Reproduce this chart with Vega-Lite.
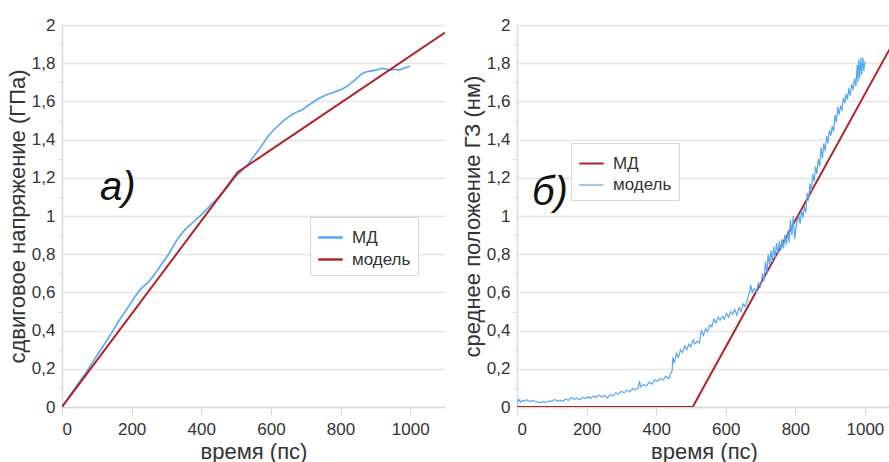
{
  "$schema": "https://vega.github.io/schema/vega-lite/v6.json",
  "padding": {"top": 16, "left": 6, "right": 0, "bottom": 0},
  "spacing": 16,
  "background": "white",
  "config": {
    "view": {"stroke": null},
    "axis": {
      "labelFont": "Liberation Sans", "labelFontSize": 17, "labelColor": "#333333",
      "titleFont": "Liberation Sans", "titleFontSize": 22, "titleFontWeight": "normal", "titleColor": "#333333",
      "domainColor": "#d9d9d9", "domainWidth": 1.5, "gridColor": "#e4e4e4", "gridWidth": 1.5, "tickColor": "#d9d9d9", "tickWidth": 1
    },
    "legend": {
      "labelFont": "Liberation Sans", "labelFontSize": 17, "labelColor": "#333333",
      "symbolType": "stroke", "symbolSize": 600, "symbolStrokeWidth": 2.5,
      "strokeColor": "#d6d6d6", "fillColor": "white", "padding": 7, "rowPadding": 0, "labelOffset": 8
    }
  },
  "datasets": {
    "a": [
      {"t": 0, "v": 0, "s": "МД"}, {"t": 30, "v": 0.08, "s": "МД"}, {"t": 67, "v": 0.175, "s": "МД"}, {"t": 90, "v": 0.24, "s": "МД"},
      {"t": 115, "v": 0.31, "s": "МД"}, {"t": 140, "v": 0.38, "s": "МД"}, {"t": 163, "v": 0.45, "s": "МД"}, {"t": 187, "v": 0.515, "s": "МД"},
      {"t": 210, "v": 0.58, "s": "МД"}, {"t": 230, "v": 0.625, "s": "МД"}, {"t": 249, "v": 0.655, "s": "МД"}, {"t": 268, "v": 0.7, "s": "МД"},
      {"t": 287, "v": 0.75, "s": "МД"}, {"t": 306, "v": 0.8, "s": "МД"}, {"t": 325, "v": 0.86, "s": "МД"}, {"t": 340, "v": 0.9, "s": "МД"},
      {"t": 354, "v": 0.93, "s": "МД"}, {"t": 378, "v": 0.97, "s": "МД"}, {"t": 402, "v": 1.01, "s": "МД"}, {"t": 426, "v": 1.055, "s": "МД"},
      {"t": 450, "v": 1.1, "s": "МД"}, {"t": 475, "v": 1.15, "s": "МД"}, {"t": 498, "v": 1.205, "s": "МД"}, {"t": 518, "v": 1.24, "s": "МД"},
      {"t": 536, "v": 1.275, "s": "МД"}, {"t": 550, "v": 1.31, "s": "МД"}, {"t": 565, "v": 1.345, "s": "МД"}, {"t": 580, "v": 1.385, "s": "МД"},
      {"t": 593, "v": 1.42, "s": "МД"}, {"t": 608, "v": 1.45, "s": "МД"}, {"t": 622, "v": 1.475, "s": "МД"}, {"t": 640, "v": 1.505, "s": "МД"},
      {"t": 660, "v": 1.53, "s": "МД"}, {"t": 675, "v": 1.545, "s": "МД"}, {"t": 689, "v": 1.555, "s": "МД"}, {"t": 712, "v": 1.585, "s": "МД"},
      {"t": 737, "v": 1.615, "s": "МД"}, {"t": 760, "v": 1.635, "s": "МД"}, {"t": 785, "v": 1.65, "s": "МД"}, {"t": 805, "v": 1.665, "s": "МД"},
      {"t": 823, "v": 1.685, "s": "МД"}, {"t": 840, "v": 1.71, "s": "МД"}, {"t": 861, "v": 1.745, "s": "МД"}, {"t": 875, "v": 1.755, "s": "МД"},
      {"t": 890, "v": 1.76, "s": "МД"}, {"t": 905, "v": 1.765, "s": "МД"}, {"t": 919, "v": 1.773, "s": "МД"}, {"t": 930, "v": 1.77, "s": "МД"},
      {"t": 943, "v": 1.764, "s": "МД"}, {"t": 955, "v": 1.768, "s": "МД"}, {"t": 967, "v": 1.764, "s": "МД"}, {"t": 985, "v": 1.775, "s": "МД"},
      {"t": 1000, "v": 1.785, "s": "МД"},
      {"t": 0, "v": 0, "s": "модель"}, {"t": 505, "v": 1.23, "s": "модель"}, {"t": 1100, "v": 1.96, "s": "модель"}
    ],
    "b": [
      {"t": 0, "v": 0, "s": "МД"}, {"t": 505, "v": 0, "s": "МД"}, {"t": 1075, "v": 1.887, "s": "МД"},
      {"t": 0, "v": 0.02, "s": "модель"}, {"t": 5, "v": 0.04, "s": "модель"}, {"t": 10, "v": 0.025, "s": "модель"}, {"t": 15, "v": 0.035, "s": "модель"},
      {"t": 20, "v": 0.03, "s": "модель"}, {"t": 28, "v": 0.038, "s": "модель"}, {"t": 36, "v": 0.028, "s": "модель"}, {"t": 44, "v": 0.034, "s": "модель"},
      {"t": 52, "v": 0.03, "s": "модель"}, {"t": 60, "v": 0.026, "s": "модель"}, {"t": 68, "v": 0.022, "s": "модель"}, {"t": 76, "v": 0.028, "s": "модель"},
      {"t": 84, "v": 0.024, "s": "модель"}, {"t": 92, "v": 0.032, "s": "модель"}, {"t": 100, "v": 0.03, "s": "модель"}, {"t": 108, "v": 0.04, "s": "модель"},
      {"t": 116, "v": 0.03, "s": "модель"}, {"t": 124, "v": 0.036, "s": "модель"}, {"t": 132, "v": 0.03, "s": "модель"}, {"t": 140, "v": 0.042, "s": "модель"},
      {"t": 148, "v": 0.034, "s": "модель"}, {"t": 156, "v": 0.05, "s": "модель"}, {"t": 164, "v": 0.04, "s": "модель"}, {"t": 172, "v": 0.046, "s": "модель"},
      {"t": 180, "v": 0.038, "s": "модель"}, {"t": 188, "v": 0.05, "s": "модель"}, {"t": 196, "v": 0.044, "s": "модель"}, {"t": 204, "v": 0.054, "s": "модель"},
      {"t": 212, "v": 0.046, "s": "модель"}, {"t": 220, "v": 0.058, "s": "модель"}, {"t": 228, "v": 0.05, "s": "модель"}, {"t": 236, "v": 0.062, "s": "модель"},
      {"t": 244, "v": 0.052, "s": "модель"}, {"t": 252, "v": 0.06, "s": "модель"}, {"t": 260, "v": 0.048, "s": "модель"}, {"t": 268, "v": 0.066, "s": "модель"},
      {"t": 276, "v": 0.058, "s": "модель"}, {"t": 284, "v": 0.074, "s": "модель"}, {"t": 292, "v": 0.068, "s": "модель"}, {"t": 300, "v": 0.082, "s": "модель"},
      {"t": 308, "v": 0.074, "s": "модель"}, {"t": 316, "v": 0.088, "s": "модель"}, {"t": 324, "v": 0.08, "s": "модель"}, {"t": 332, "v": 0.096, "s": "модель"},
      {"t": 340, "v": 0.09, "s": "модель"}, {"t": 348, "v": 0.1, "s": "модель"}, {"t": 352, "v": 0.135, "s": "модель"}, {"t": 356, "v": 0.105, "s": "модель"},
      {"t": 364, "v": 0.118, "s": "модель"}, {"t": 372, "v": 0.11, "s": "модель"}, {"t": 380, "v": 0.13, "s": "модель"}, {"t": 388, "v": 0.12, "s": "модель"},
      {"t": 396, "v": 0.142, "s": "модель"}, {"t": 404, "v": 0.135, "s": "модель"}, {"t": 412, "v": 0.15, "s": "модель"}, {"t": 420, "v": 0.14, "s": "модель"},
      {"t": 428, "v": 0.16, "s": "модель"}, {"t": 436, "v": 0.15, "s": "модель"}, {"t": 442, "v": 0.175, "s": "модель"}, {"t": 446, "v": 0.19, "s": "модель"},
      {"t": 448, "v": 0.26, "s": "модель"}, {"t": 452, "v": 0.23, "s": "модель"}, {"t": 458, "v": 0.28, "s": "модель"}, {"t": 464, "v": 0.26, "s": "модель"},
      {"t": 470, "v": 0.3, "s": "модель"}, {"t": 476, "v": 0.285, "s": "модель"}, {"t": 482, "v": 0.32, "s": "модель"}, {"t": 488, "v": 0.3, "s": "модель"},
      {"t": 494, "v": 0.33, "s": "модель"}, {"t": 500, "v": 0.315, "s": "модель"}, {"t": 506, "v": 0.35, "s": "модель"}, {"t": 512, "v": 0.33, "s": "модель"},
      {"t": 518, "v": 0.345, "s": "модель"}, {"t": 524, "v": 0.335, "s": "модель"}, {"t": 530, "v": 0.4, "s": "модель"}, {"t": 536, "v": 0.375, "s": "модель"},
      {"t": 542, "v": 0.41, "s": "модель"}, {"t": 548, "v": 0.395, "s": "модель"}, {"t": 554, "v": 0.43, "s": "модель"}, {"t": 560, "v": 0.42, "s": "модель"},
      {"t": 566, "v": 0.46, "s": "модель"}, {"t": 572, "v": 0.44, "s": "модель"}, {"t": 578, "v": 0.47, "s": "модель"}, {"t": 584, "v": 0.455, "s": "модель"},
      {"t": 590, "v": 0.475, "s": "модель"}, {"t": 596, "v": 0.46, "s": "модель"}, {"t": 602, "v": 0.49, "s": "модель"}, {"t": 608, "v": 0.47, "s": "модель"},
      {"t": 614, "v": 0.5, "s": "модель"}, {"t": 620, "v": 0.485, "s": "модель"}, {"t": 626, "v": 0.51, "s": "модель"}, {"t": 632, "v": 0.48, "s": "модель"},
      {"t": 638, "v": 0.52, "s": "модель"}, {"t": 644, "v": 0.5, "s": "модель"}, {"t": 650, "v": 0.54, "s": "модель"}, {"t": 656, "v": 0.525, "s": "модель"},
      {"t": 662, "v": 0.56, "s": "модель"}, {"t": 668, "v": 0.6, "s": "модель"}, {"t": 672, "v": 0.64, "s": "модель"}, {"t": 676, "v": 0.6, "s": "модель"},
      {"t": 682, "v": 0.62, "s": "модель"}, {"t": 688, "v": 0.6, "s": "модель"}, {"t": 694, "v": 0.65, "s": "модель"}, {"t": 700, "v": 0.63, "s": "модель"},
      {"t": 706, "v": 0.7, "s": "модель"}, {"t": 710, "v": 0.66, "s": "модель"}, {"t": 714, "v": 0.76, "s": "модель"}, {"t": 718, "v": 0.7, "s": "модель"},
      {"t": 722, "v": 0.8, "s": "модель"}, {"t": 726, "v": 0.74, "s": "модель"}, {"t": 730, "v": 0.82, "s": "модель"}, {"t": 734, "v": 0.76, "s": "модель"},
      {"t": 738, "v": 0.84, "s": "модель"}, {"t": 742, "v": 0.78, "s": "модель"}, {"t": 746, "v": 0.86, "s": "модель"}, {"t": 750, "v": 0.8, "s": "модель"},
      {"t": 754, "v": 0.87, "s": "модель"}, {"t": 758, "v": 0.82, "s": "модель"}, {"t": 762, "v": 0.88, "s": "модель"}, {"t": 766, "v": 0.83, "s": "модель"},
      {"t": 770, "v": 0.9, "s": "модель"}, {"t": 774, "v": 0.85, "s": "модель"}, {"t": 778, "v": 0.92, "s": "модель"}, {"t": 782, "v": 0.86, "s": "модель"},
      {"t": 786, "v": 0.98, "s": "модель"}, {"t": 790, "v": 0.9, "s": "модель"}, {"t": 794, "v": 1.0, "s": "модель"}, {"t": 798, "v": 0.88, "s": "модель"},
      {"t": 802, "v": 0.94, "s": "модель"}, {"t": 806, "v": 0.98, "s": "модель"}, {"t": 810, "v": 1.0, "s": "модель"}, {"t": 814, "v": 0.96, "s": "модель"},
      {"t": 818, "v": 1.03, "s": "модель"}, {"t": 822, "v": 0.99, "s": "модель"}, {"t": 826, "v": 1.05, "s": "модель"}, {"t": 830, "v": 1.02, "s": "модель"},
      {"t": 834, "v": 1.12, "s": "модель"}, {"t": 838, "v": 1.08, "s": "модель"}, {"t": 842, "v": 1.17, "s": "модель"}, {"t": 846, "v": 1.13, "s": "модель"},
      {"t": 850, "v": 1.22, "s": "модель"}, {"t": 854, "v": 1.18, "s": "модель"}, {"t": 858, "v": 1.26, "s": "модель"}, {"t": 862, "v": 1.22, "s": "модель"},
      {"t": 866, "v": 1.3, "s": "модель"}, {"t": 870, "v": 1.26, "s": "модель"}, {"t": 874, "v": 1.36, "s": "модель"}, {"t": 878, "v": 1.3, "s": "модель"},
      {"t": 882, "v": 1.38, "s": "модель"}, {"t": 886, "v": 1.34, "s": "модель"}, {"t": 890, "v": 1.42, "s": "модель"}, {"t": 894, "v": 1.38, "s": "модель"},
      {"t": 898, "v": 1.45, "s": "модель"}, {"t": 902, "v": 1.42, "s": "модель"}, {"t": 906, "v": 1.47, "s": "модель"}, {"t": 910, "v": 1.44, "s": "модель"},
      {"t": 914, "v": 1.53, "s": "модель"}, {"t": 918, "v": 1.49, "s": "модель"}, {"t": 922, "v": 1.57, "s": "модель"}, {"t": 926, "v": 1.53, "s": "модель"},
      {"t": 930, "v": 1.58, "s": "модель"}, {"t": 934, "v": 1.55, "s": "модель"}, {"t": 938, "v": 1.62, "s": "модель"}, {"t": 942, "v": 1.59, "s": "модель"},
      {"t": 946, "v": 1.64, "s": "модель"}, {"t": 950, "v": 1.61, "s": "модель"}, {"t": 954, "v": 1.67, "s": "модель"}, {"t": 958, "v": 1.63, "s": "модель"},
      {"t": 962, "v": 1.69, "s": "модель"}, {"t": 966, "v": 1.66, "s": "модель"}, {"t": 970, "v": 1.72, "s": "модель"}, {"t": 974, "v": 1.68, "s": "модель"},
      {"t": 978, "v": 1.79, "s": "модель"}, {"t": 980, "v": 1.7, "s": "модель"}, {"t": 982, "v": 1.82, "s": "модель"}, {"t": 985, "v": 1.72, "s": "модель"},
      {"t": 988, "v": 1.83, "s": "модель"}, {"t": 991, "v": 1.74, "s": "модель"}, {"t": 994, "v": 1.83, "s": "модель"}, {"t": 997, "v": 1.76, "s": "модель"},
      {"t": 1000, "v": 1.81, "s": "модель"}
    ],
    "la": [{"t": 109, "v": 1.084, "txt": "а)"}],
    "lb": [{"t": 43, "v": 1.057, "txt": "б)"}]
  },
  "hconcat": [
    {
      "width": 383, "height": 382,
      "layer": [
        {
          "data": {"name": "a"},
          "mark": {"type": "line", "clip": true},
          "encoding": {
            "x": {"field": "t", "type": "quantitative", "scale": {"domain": [0, 1100], "nice": false},
                  "axis": {"values": [0, 200, 400, 600, 800, 1000], "format": "d", "grid": false, "tickSize": 8, "labelPadding": 6, "titlePadding": 4, "title": "время (пс)"}},
            "y": {"field": "v", "type": "quantitative", "scale": {"domain": [0, 2], "nice": false},
                  "axis": {"values": [0, 0.1, 0.2, 0.3, 0.4, 0.5, 0.6, 0.7, 0.8, 0.9, 1, 1.1, 1.2, 1.3, 1.4, 1.5, 1.6, 1.7, 1.8, 1.9, 2],
                           "tickCount": 40, "labelOverlap": false, "tickSize": 4, "labelPadding": 3, "titlePadding": 2,
                           "gridOpacity": {"condition": {"test": "round(datum.value*10)%2==0", "value": 1}, "value": 0},
                           "tickOpacity": {"condition": {"test": "round(datum.value*10)%2==0", "value": 0}, "value": 1},
                           "labelExpr": "round(datum.value*10)%2==0 ? replace(format(datum.value,'~g'),'.',',') : ''",
                           "title": "сдвиговое напряжение (ГПа)"}},
            "color": {"field": "s", "type": "nominal", "scale": {"domain": ["МД", "модель"], "range": ["#56a8f2", "#b0242a"]},
                      "legend": {"title": null, "orient": "none", "legendX": 248, "legendY": 192}},
            "strokeWidth": {"field": "s", "type": "nominal", "scale": {"domain": ["МД", "модель"], "range": [1.6, 2]}, "legend": null}
          }
        },
        {
          "data": {"name": "la"},
          "mark": {"type": "text", "font": "Liberation Sans", "fontStyle": "italic", "fontSize": 40, "align": "left", "baseline": "alphabetic", "color": "#111111"},
          "encoding": {
            "x": {"field": "t", "type": "quantitative"},
            "y": {"field": "v", "type": "quantitative"},
            "text": {"field": "txt"}
          }
        }
      ],
      "resolve": {"scale": {"color": "independent"}}
    },
    {
      "width": 374, "height": 382,
      "layer": [
        {
          "data": {"name": "b"},
          "mark": {"type": "line", "clip": true},
          "encoding": {
            "x": {"field": "t", "type": "quantitative", "scale": {"domain": [0, 1075], "nice": false},
                  "axis": {"values": [0, 200, 400, 600, 800, 1000], "format": "d", "grid": false, "tickSize": 8, "labelPadding": 6, "titlePadding": 4, "title": "время (пс)"}},
            "y": {"field": "v", "type": "quantitative", "scale": {"domain": [0, 2], "nice": false},
                  "axis": {"values": [0, 0.1, 0.2, 0.3, 0.4, 0.5, 0.6, 0.7, 0.8, 0.9, 1, 1.1, 1.2, 1.3, 1.4, 1.5, 1.6, 1.7, 1.8, 1.9, 2],
                           "tickCount": 40, "labelOverlap": false, "tickSize": 4, "labelPadding": 3, "titlePadding": 2,
                           "gridOpacity": {"condition": {"test": "round(datum.value*10)%2==0", "value": 1}, "value": 0},
                           "tickOpacity": {"condition": {"test": "round(datum.value*10)%2==0", "value": 0}, "value": 1},
                           "labelExpr": "round(datum.value*10)%2==0 ? replace(format(datum.value,'~g'),'.',',') : ''",
                           "title": "среднее положение ГЗ (нм)"}},
            "color": {"field": "s", "type": "nominal", "scale": {"domain": ["МД", "модель"], "range": ["#b0242a", "#56a8f2"]},
                      "legend": {"title": null, "orient": "none", "legendX": 54, "legendY": 118}},
            "strokeWidth": {"field": "s", "type": "nominal", "scale": {"domain": ["МД", "модель"], "range": [2, 1.2]}, "legend": null}
          }
        },
        {
          "data": {"name": "lb"},
          "mark": {"type": "text", "font": "Liberation Sans", "fontStyle": "italic", "fontSize": 40, "align": "left", "baseline": "alphabetic", "color": "#111111"},
          "encoding": {
            "x": {"field": "t", "type": "quantitative"},
            "y": {"field": "v", "type": "quantitative"},
            "text": {"field": "txt"}
          }
        }
      ]
    }
  ],
  "resolve": {"scale": {"color": "independent", "strokeWidth": "independent", "x": "independent", "y": "independent"}, "legend": {"color": "independent"}}
}
